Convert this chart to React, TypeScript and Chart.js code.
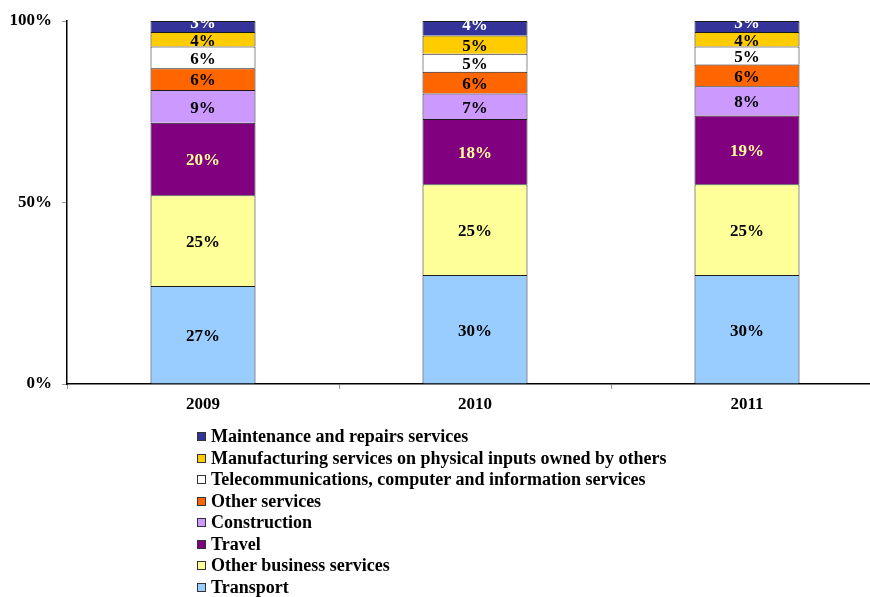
import React, { useEffect, useRef } from "react";
import { Chart, registerables } from "chart.js";

Chart.register(...registerables);

const categories = ["2009", "2010", "2011"];
const transport = [27, 30, 30];
const otherBusiness = [25, 25, 25];
const travel = [20, 18, 19];
const construction = [9, 7, 8];
const otherServices = [6, 6, 6];
const telecom = [6, 5, 5];
const manufacturing = [4, 5, 4];
const maintenance = [3, 4, 3];
const yTicks = [0, 50, 100];

const FONT = "'Liberation Serif', 'Times New Roman', serif";

const seriesDefs = [
  { label: "Transport", data: transport, color: "#99CCFF", text: "#000000" },
  { label: "Other business services", data: otherBusiness, color: "#FFFF99", text: "#000000" },
  { label: "Travel", data: travel, color: "#800080", text: "#FFFF99" },
  { label: "Construction", data: construction, color: "#CC99FF", text: "#000000" },
  { label: "Other services", data: otherServices, color: "#FF6600", text: "#000000" },
  { label: "Telecommunications, computer and information services", data: telecom, color: "#FFFFFF", text: "#000000" },
  { label: "Manufacturing services on physical inputs owned by others", data: manufacturing, color: "#FFCC00", text: "#000000" },
  { label: "Maintenance and repairs services", data: maintenance, color: "#333399", text: "#FFFFFF" },
];

const labelPlugin = {
  id: "segLabels",
  afterDatasetsDraw(chart: any) {
    const ctx = chart.ctx;
    const area = chart.chartArea;
    ctx.save();
    ctx.beginPath();
    ctx.rect(area.left, area.top, area.right - area.left, area.bottom - area.top);
    ctx.clip();
    ctx.font = `bold 17px ${FONT}`;
    ctx.textAlign = "center";
    ctx.textBaseline = "middle";
    const n = chart.data.datasets.length;
    chart.data.datasets.forEach((ds: any, di: number) => {
      const meta = chart.getDatasetMeta(di);
      meta.data.forEach((el: any, i: number) => {
        const v = ds.data[i];
        const cy = (el.y + el.base) / 2 + (di === n - 1 ? -5 : 0);
        ctx.fillStyle = seriesDefs[di].text;
        ctx.fillText(v + "%", el.x, cy + 2);
      });
    });
    ctx.restore();
  },
};

export default function App() {
  const ref = useRef<HTMLCanvasElement | null>(null);
  useEffect(() => {
    if (!ref.current) return;
    const chart = new Chart(ref.current, {
      type: "bar",
      data: {
        labels: categories,
        datasets: seriesDefs.map((s) => ({
          label: s.label,
          data: s.data,
          backgroundColor: s.color,
          borderColor: "#1a1a1a",
          borderWidth: 1,
          categoryPercentage: 1,
          barPercentage: 0.386,
        })),
      },
      options: {
        responsive: false,
        animation: false,
        devicePixelRatio: 1,
        layout: { padding: { top: 21, left: 0, right: 0, bottom: 168 } },
        plugins: { legend: { display: false }, tooltip: { enabled: false } },
        scales: {
          x: {
            stacked: true,
            grid: { offset: true, drawOnChartArea: false, tickLength: 5, color: "#999999" },
            border: { color: "#000000", width: 1.5 },
            ticks: { color: "#000000", padding: 5, font: { family: FONT, size: 17, weight: "bold" } },
            afterFit: (s: any) => { s.height = 45; },
          },
          y: {
            stacked: true,
            min: 0,
            max: 100,
            afterBuildTicks: (s: any) => { s.ticks = yTicks.map((v) => ({ value: v })); },
            grid: { drawOnChartArea: false, tickLength: 5, color: "#999999" },
            border: { color: "#000000", width: 1.5 },
            ticks: {
              color: "#000000",
              padding: 10,
              font: { family: FONT, size: 17, weight: "bold" },
              callback: (v: any) => v + "%",
            },
            afterFit: (s: any) => { s.width = 67; },
          },
        },
      },
      plugins: [labelPlugin],
    });
    return () => chart.destroy();
  }, []);

  const legendItems = [...seriesDefs].reverse();
  return (
    <div style={{ position: "fixed", left: 0, top: 0, width: 870, height: 597, overflow: "hidden", background: "#fff" }}>
      <canvas ref={ref} width={883} height={597} style={{ position: "absolute", left: 0, top: 0, width: 883, height: 597 }} />
      <div style={{ position: "absolute", left: 197, top: 426, fontFamily: FONT, fontWeight: "bold", fontSize: 18, color: "#000" }}>
        {legendItems.map((s) => (
          <div key={s.label} style={{ height: 21.5, lineHeight: "21.5px", display: "flex", alignItems: "center", whiteSpace: "nowrap" }}>
            <span style={{ display: "inline-block", width: 7, height: 7, background: s.color, border: "1px solid #333", marginRight: 5 }} />
            <span>{s.label}</span>
          </div>
        ))}
      </div>
    </div>
  );
}
